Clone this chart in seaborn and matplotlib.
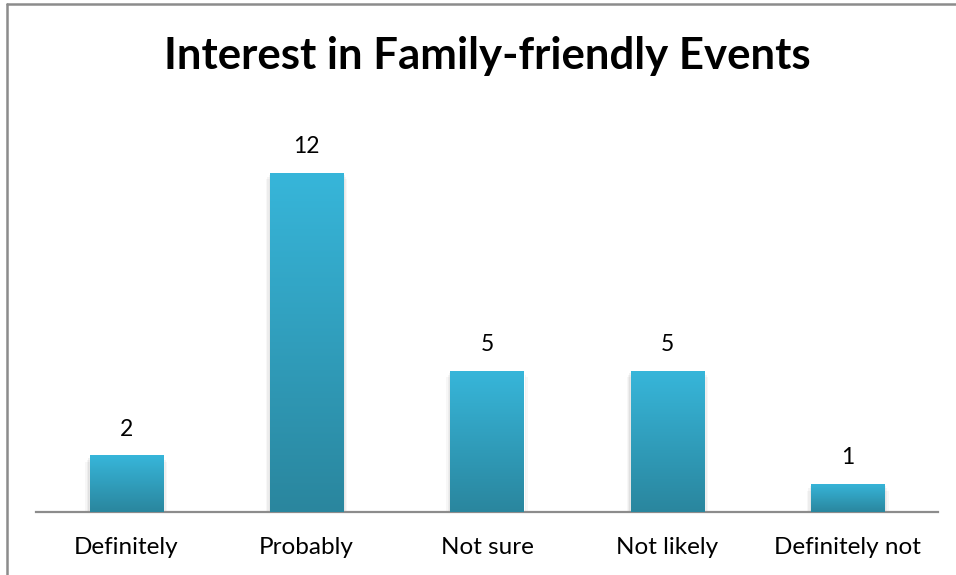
import numpy as np
import pandas as pd
import matplotlib
matplotlib.use("Agg")
import matplotlib.pyplot as plt
from matplotlib.colors import LinearSegmentedColormap
from matplotlib.lines import Line2D
import seaborn as sns

categories = ["Definitely", "Probably", "Not sure", "Not likely", "Definitely not"]
counts = [2, 12, 5, 5, 1]
title = "Interest in Family-friendly Events"

sns.set_theme(style="white")
plt.rcParams["font.family"] = ["Lato", "DejaVu Sans"]

df = pd.DataFrame({"answer": categories, "count": counts})

fig = plt.figure(figsize=(9.56, 5.75), dpi=100)
ax = fig.add_axes([36 / 956, 63 / 575, 902 / 956, 396 / 575])

sns.barplot(data=df, x="answer", y="count", color="#33a9cc", width=0.405,
            saturation=1, ax=ax)
ax.set_ylim(0, 14)
ax.set_xlim(-0.5, len(categories) - 0.5)

# vertical gradient fill for each bar, plus a soft drop shadow
grad = LinearSegmentedColormap.from_list("bar", ["#2a869e", "#37b6da"])
g = np.linspace(0, 1, 256).reshape(-1, 1)
for p in list(ax.patches):
    x0, y0 = p.get_x(), p.get_y()
    w, h = p.get_width(), p.get_height()
    for k, a in enumerate([0.05, 0.04, 0.03]):
        off = 0.008 * (k + 1)
        ax.add_patch(plt.Rectangle((x0 - off, y0 - 0.12 * (k + 1)), w + 2 * off,
                                   h + 0.04 * (k + 1), color="black", alpha=a,
                                   lw=0, zorder=1))
    im = ax.imshow(g, cmap=grad, extent=(x0, x0 + w, y0, y0 + h),
                   origin="lower", aspect="auto", zorder=3)
    im.set_clip_path(p)
    p.set_zorder(2)
    ax.text(x0 + w / 2, y0 + h + 0.55, f"{int(h)}", ha="center", va="bottom",
            fontsize=16.5, color="black", zorder=4)

ax.set_xlim(-0.5, len(categories) - 0.5)
ax.set_ylim(0, 14)
ax.set_xlabel("")
ax.set_ylabel("")
ax.set_yticks([])
ax.tick_params(axis="x", length=0, pad=18, labelsize=17.5, labelcolor="black")
for s in ["top", "right", "left"]:
    ax.spines[s].set_visible(False)
ax.spines["bottom"].set_color("#8c8c8c")
ax.spines["bottom"].set_linewidth(1.6)

fig.text(487 / 956, 1 - 56 / 575, title, ha="center", va="center",
         fontsize=31.5, fontweight="bold", color="black")

# chart area frame on the left and top edges
fig.add_artist(Line2D([7 / 956, 7 / 956], [0, 1 - 4 / 575], color="#8c8c8c", lw=1.8))
fig.add_artist(Line2D([7 / 956, 1], [1 - 4 / 575, 1 - 4 / 575], color="#8c8c8c", lw=1.8))

fig.savefig("out.png", dpi=100)
